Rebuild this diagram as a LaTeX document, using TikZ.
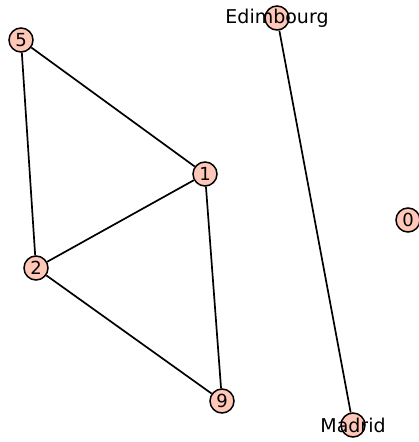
\documentclass[tikz,border=0pt]{standalone}
\usepackage{fontspec}
\setmainfont{DejaVu Sans}
\definecolor{vfill}{HTML}{FEC7B8}
\begin{document}
\begin{tikzpicture}[x=1pt,y=-1pt,
  vtx/.style={circle,draw=black,fill=vfill,line width=1.5pt,minimum size=24pt,inner sep=0pt,font=\fontsize{18}{18}\selectfont},
  lbl/.style={font=\fontsize{19}{19}\selectfont,inner sep=0pt},
  edg/.style={line width=1.7pt,black}]
\useasboundingbox (0,0) rectangle (419,442);
\node[vtx] (n5) at (21,40) {5};
\node[vtx] (n1) at (205,174) {1};
\node[vtx] (n0) at (408,220) {0};
\node[vtx] (n2) at (36,268) {2};
\node[vtx] (n9) at (222,401) {9};
\node[vtx] (nE) at (277,18) {};
\node[vtx] (nM) at (353,425) {};
\node[lbl] (tE) at (nE) {Edimbourg};
\node[lbl] (tM) at (nM) {Madrid};
\draw[edg] (n5) -- (n1);
\draw[edg] (n5) -- (n2);
\draw[edg] (n1) -- (n2);
\draw[edg] (n1) -- (n9);
\draw[edg] (n2) -- (n9);
\draw[edg] (nE) -- (nM);
\end{tikzpicture}
\end{document}
